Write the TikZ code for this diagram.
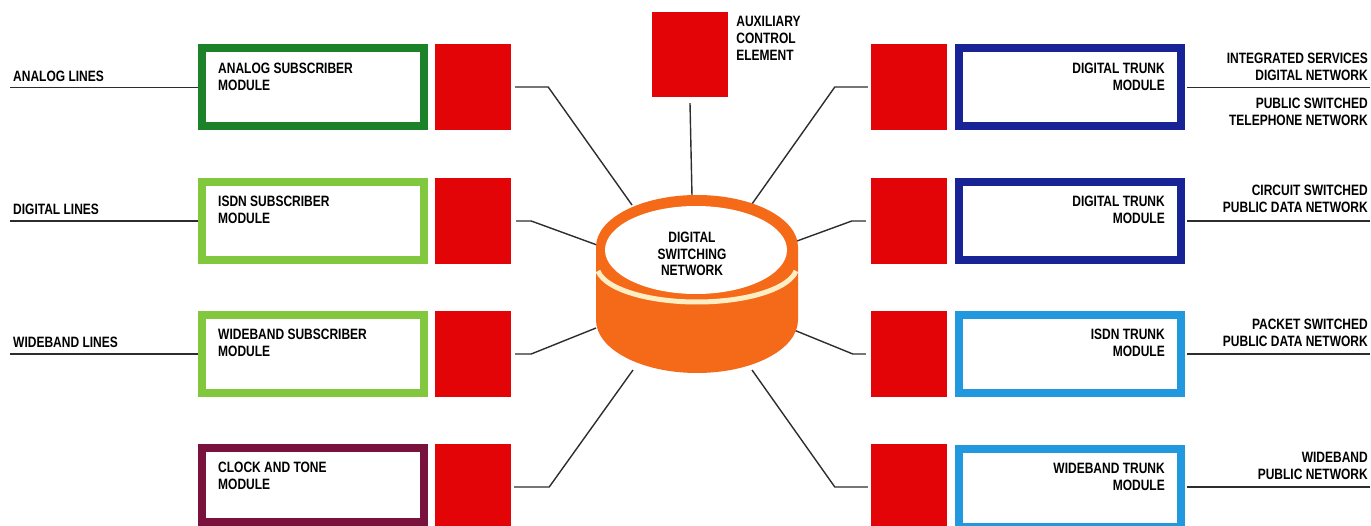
\documentclass[tikz,border=0pt]{standalone}
\usepackage{fontspec}
\setmainfont{Liberation Sans}[FakeStretch=0.8]
\usetikzlibrary{positioning}

\definecolor{portred}{RGB}{226,4,6}
\definecolor{anagreen}{RGB}{28,130,42}
\definecolor{limegreen}{RGB}{130,200,62}
\definecolor{clockred}{RGB}{122,18,62}
\definecolor{trunkblue}{RGB}{24,36,150}
\definecolor{skyblue}{RGB}{34,152,222}
\definecolor{hubnorange}{RGB}{245,106,24}
\definecolor{hubcream}{RGB}{255,238,196}
\definecolor{wire}{RGB}{45,45,45}

\begin{document}
\begin{tikzpicture}[x=1pt, y=-1pt,
  font=\bfseries\fontsize{15}{17}\selectfont,
  frame/.style={draw, line width=8pt, fill=white, minimum width=222pt,
                minimum height=78pt, inner sep=0pt},
  port/.style={fill=portred, minimum width=76pt, minimum height=86pt, inner sep=0pt},
  txt/.style={inner sep=0pt, align=left},
  rtxt/.style={inner sep=0pt, align=right},
  conn/.style={draw=wire, line width=1.4pt},
  feed/.style={draw=wire, line width=1.5pt}]
\useasboundingbox (0,0) rectangle (1371,526);

% ---- left column: subscriber modules ----
\node[frame, draw=anagreen] (asm) at (313,87.5) {};
\node[frame, draw=limegreen] (ism) at (313,221) {};
\node[frame, draw=limegreen] (wsm) at (313,354) {};
\node[frame, draw=clockred, minimum height=74pt] (ctm) at (313,485) {};
\node[port] (asmp) at (473,87) {};
\node[port] (ismp) at (473,221) {};
\node[port] (wsmp) at (473,354) {};
\node[port, minimum height=82pt] (ctmp) at (473,485) {};

\node[txt, below right=18pt and 20pt of asm.north west] {ANALOG SUBSCRIBER\\MODULE};
\node[txt, below right=18pt and 20pt of ism.north west] {ISDN SUBSCRIBER\\MODULE};
\node[txt, below right=18pt and 20pt of wsm.north west] {WIDEBAND SUBSCRIBER\\MODULE};
\node[txt, below right=18pt and 20pt of ctm.north west] {CLOCK AND TONE\\MODULE};

% ---- right column: trunk modules ----
\node[frame, draw=trunkblue] (dtm1) at (1070,87.5) {};
\node[frame, draw=trunkblue] (dtm2) at (1070,221) {};
\node[frame, draw=skyblue] (itm) at (1070,354) {};
\node[frame, draw=skyblue] (wtm) at (1070,487.5) {};
\node[port] (dtm1p) at (909,87) {};
\node[port] (dtm2p) at (909,221) {};
\node[port] (itmp) at (909,354) {};
\node[port, minimum height=82pt] (wtmp) at (909,485) {};

\node[rtxt, below left=18pt and 20pt of dtm1.north east] {DIGITAL TRUNK\\MODULE};
\node[rtxt, below left=18pt and 20pt of dtm2.north east] {DIGITAL TRUNK\\MODULE};
\node[rtxt, below left=18pt and 20pt of itm.north east] {ISDN TRUNK\\MODULE};
\node[rtxt, below left=18pt and 20pt of wtm.north east] {WIDEBAND TRUNK\\MODULE};

% ---- auxiliary control element ----
\node[port, minimum width=76pt, minimum height=85pt] (ace) at (690,54.5) {};
\node[txt, below right=4pt and 8pt of ace.north east] {AUXILIARY\\CONTROL\\ELEMENT};

% ---- outside lines ----
\coordinate (alines) at (10,87.5);
\coordinate (dlines) at (10,221);
\coordinate (wlines) at (10,354);
\draw[feed] (alines) -- (asm.west);
\draw[feed] (dlines) -- (ism.west);
\draw[feed] (wlines) -- (wsm.west);
\node[txt, above right=6pt and 3pt of alines] {ANALOG LINES};
\node[txt, above right=6pt and 3pt of dlines] {DIGITAL LINES};
\node[txt, above right=6pt and 3pt of wlines] {WIDEBAND LINES};

\coordinate (isdnend) at (1370,87.5);
\coordinate (csdnend) at (1370,221);
\coordinate (psdnend) at (1370,354);
\coordinate (wbpnend) at (1370,487);
\draw[feed, shorten <=2pt] (dtm1.east) -- (isdnend);
\draw[feed, shorten <=2pt] (dtm2.east) -- (csdnend);
\draw[feed, shorten <=2pt] (itm.east) -- (psdnend);
\draw[feed, shorten <=2pt] (wtm.east |- wbpnend) -- (wbpnend);
\node[rtxt, above left=7pt and 2pt of isdnend] {INTEGRATED SERVICES\\DIGITAL NETWORK};
\node[rtxt, below left=10pt and 2pt of isdnend] {PUBLIC SWITCHED\\TELEPHONE NETWORK};
\node[rtxt, above left=8pt and 2pt of csdnend] {CIRCUIT SWITCHED\\PUBLIC DATA NETWORK};
\node[rtxt, above left=7pt and 2pt of psdnend] {PACKET SWITCHED\\PUBLIC DATA NETWORK};
\node[rtxt, above left=7pt and 2pt of wbpnend] {WIDEBAND\\PUBLIC NETWORK};

% ---- connectors to the switching network ----
\coordinate (hubnw) at (632,205);
\coordinate (hubw) at (597,245);
\coordinate (hubsw) at (596,328);
\coordinate (hubs) at (633,370);
\coordinate (hubne) at (752,204);
\coordinate (hube) at (797,241);
\coordinate (hubse) at (789,328);
\coordinate (hubsse) at (752,370);
\coordinate (hubn) at (692,196);
\draw[conn] ([xshift=4pt]asmp.east) -- ++(33,0) -- (hubnw);
\draw[conn] ([xshift=5pt]ismp.east) -- ++(15,0) -- (hubw);
\draw[conn] ([xshift=4pt]wsmp.east) -- ++(16,0) -- (hubsw);
\draw[conn] ([xshift=3pt,yshift=-2pt]ctmp.east) -- ++(35,0) -- (hubs);
\draw[conn] ([xshift=-3pt]dtm1p.west) -- ++(-33,0) -- (hubne);
\draw[conn] ([xshift=-5pt]dtm2p.west) -- ++(-14,0) -- (hube);
\draw[conn] ([xshift=-5pt]itmp.west) -- ++(-13,0) -- (hubse);
\draw[conn] ([xshift=-3pt,yshift=-2pt]wtmp.west) -- ++(-33,0) -- (hubsse);
\draw[conn] ([yshift=-6pt]ace.south) -- (hubn);

% ---- digital switching network drum ----
\fill[hubnorange] (596,247) -- (596,320)
  arc[start angle=180, end angle=360, x radius=101pt, y radius=53pt] -- (798,247) -- cycle;
\fill[hubnorange] (697,247) ellipse[x radius=101pt, y radius=52pt];
\draw[hubcream, line width=5pt]
  ([shift={(188:100pt and 36pt)}]697,266) arc[start angle=188, end angle=352, x radius=100pt, y radius=36pt];
\fill[white] (696,250) ellipse[x radius=91pt, y radius=44pt];
\node[inner sep=0pt, align=center, font=\bfseries\fontsize{15}{16.5}\selectfont] (dsn) at (692,254)
  {DIGITAL\\SWITCHING\\NETWORK};
\end{tikzpicture}
\end{document}
